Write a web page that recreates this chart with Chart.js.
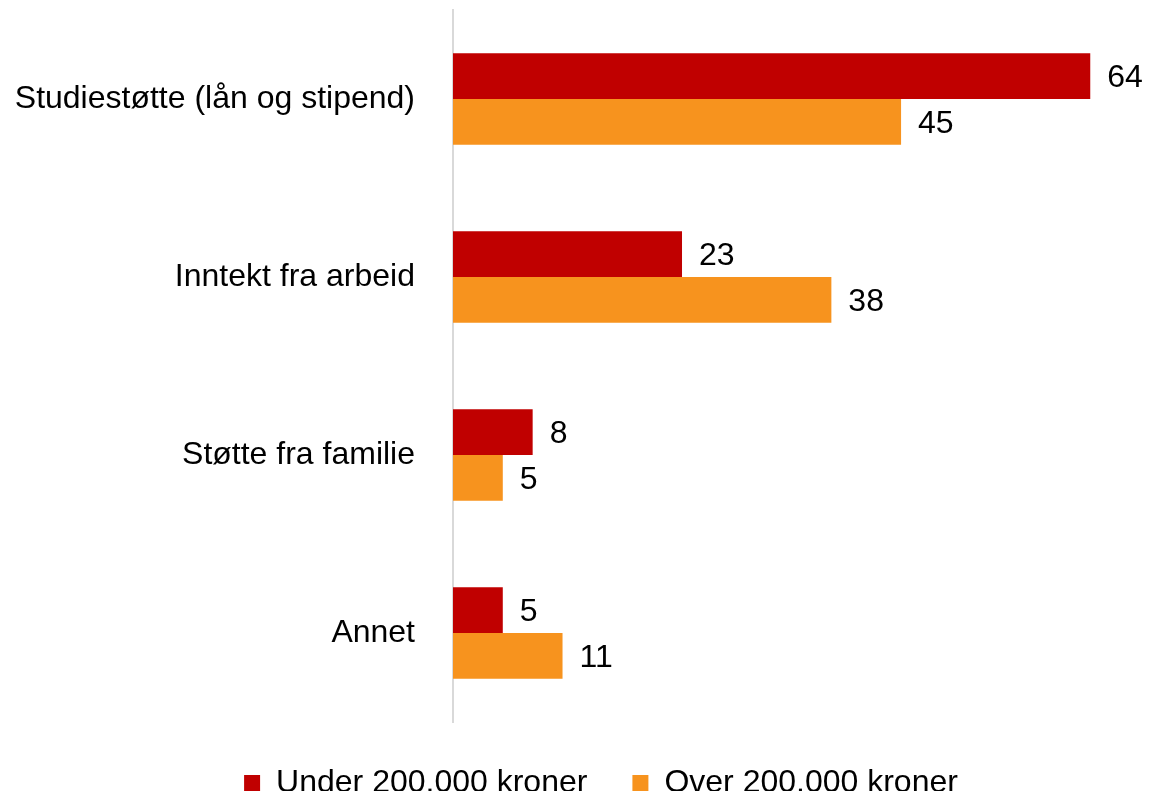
<!DOCTYPE html>
<html>
<head>
<meta charset="utf-8">
<script src="https://cdn.jsdelivr.net/npm/chart.js@4/dist/chart.umd.min.js"></script>
<style>
  html, body { margin: 0; padding: 0; background: #fff; }
  #wrap { width: 1150px; height: 791px; }
</style>
</head>
<body>
<div id="wrap"><canvas id="finansChart"></canvas></div>
<script>
const categories = [
  "Studiestøtte (lån og stipend)",
  "Inntekt fra arbeid",
  "Støtte fra familie",
  "Annet",
];
const underLabel = "Under 200.000 kroner";
const overLabel = "Over 200.000 kroner";
const underValues = [64, 23, 8, 5];
const overValues = [45, 38, 5, 11];

const FONT = "'Liberation Sans', Arial, sans-serif";

// tall ved enden av hver stolpe
const valueLabels = {
  id: "valueLabels",
  afterDatasetsDraw(chart) {
    const ctx = chart.ctx;
    ctx.save();
    ctx.font = "32px " + FONT;
    ctx.fillStyle = "#000";
    ctx.textAlign = "left";
    ctx.textBaseline = "middle";
    chart.data.datasets.forEach((ds, di) => {
      chart.getDatasetMeta(di).data.forEach((bar, i) => {
        ctx.fillText(String(ds.data[i]), bar.x + 17, bar.y + 2);
      });
    });
    ctx.restore();
  },
};

new Chart(document.getElementById("finansChart"), {
  type: "bar",
  data: {
    labels: categories,
    datasets: [
      {
        label: underLabel,
        data: underValues,
        backgroundColor: "#C00000",
        categoryPercentage: 0.515,
        barPercentage: 1,
      },
      {
        label: overLabel,
        data: overValues,
        backgroundColor: "#F7931E",
        categoryPercentage: 0.515,
        barPercentage: 1,
      },
    ],
  },
  options: {
    indexAxis: "y",
    responsive: true,
    maintainAspectRatio: false,
    animation: false,
    // negativ høyremarg flytter legenden litt mot høyre
    layout: { padding: { top: 10, right: -52, bottom: 0, left: 0 } },
    scales: {
      x: {
        display: false,
        min: 0,
        max: 70,
      },
      y: {
        grid: { display: false, drawTicks: false },
        border: { display: true, color: "#d9d9d9", width: 2 },
        ticks: {
          color: "#000",
          padding: 38,
          font: { family: FONT, size: 32 },
        },
        afterFit(scale) {
          // fast bredde, og ingen ekstra luft over/under
          scale.width = 453;
          scale.paddingTop = 0;
          scale.paddingBottom = 0;
        },
      },
    },
    plugins: {
      legend: {
        position: "bottom",
        maxHeight: 69,
        labels: {
          color: "#000",
          boxWidth: 16,
          boxHeight: 16,
          padding: 45,
          font: { family: FONT, size: 32 },
        },
      },
      tooltip: { enabled: false },
    },
  },
  plugins: [valueLabels],
});
</script>
</body>
</html>
